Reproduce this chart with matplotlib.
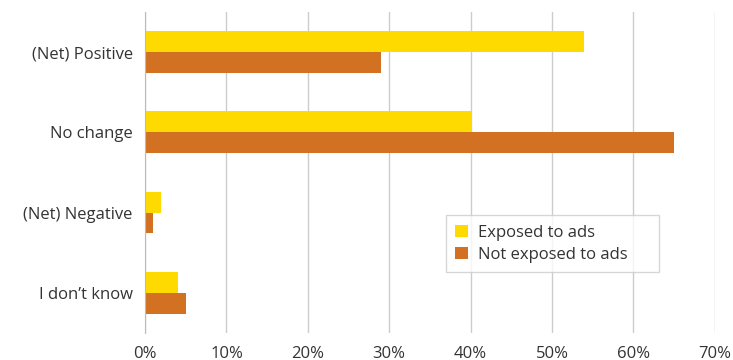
import matplotlib.pyplot as plt
import numpy as np

categories = ["(Net) Positive", "No change", "(Net) Negative", "I don\u2019t know"]
exposed = [54, 40, 2, 4]
not_exposed = [29, 65, 1, 5]
ticks = [0, 10, 20, 30, 40, 50, 60, 70]

plt.rcParams['font.family'] = ['Open Sans', 'DejaVu Sans']

fig = plt.figure(figsize=(7.33, 3.6), dpi=100)
ax = fig.add_axes([0.198, 0.075, 0.777, 0.892])

y = np.arange(len(categories))
h = 0.26
ax.barh(y - h / 2, exposed, height=h, color="#FFDA00", label="Exposed to ads", zorder=3)
ax.barh(y + h / 2, not_exposed, height=h, color="#D27121", label="Not exposed to ads", zorder=3)

ax.set_ylim(3.5, -0.5)
ax.set_xlim(0, 70)
ax.set_yticks(y)
ax.set_yticklabels(categories, fontsize=12, color="#333333")
ax.set_xticks(ticks)
ax.set_xticklabels([f"{t}%" for t in ticks], fontsize=12, color="#333333")
ax.tick_params(length=0, pad=9)

ax.grid(axis="x", color="#cccccc", linewidth=1, zorder=0)
for s in ["top", "right", "bottom"]:
    ax.spines[s].set_visible(False)
ax.spines["left"].set_color("#bbbbbb")
ax.spines["left"].set_zorder(4)

leg = ax.legend(loc="lower left", bbox_to_anchor=(0.528, 0.19, 0.375, 0.162), mode="expand",
                fontsize=12, frameon=True, fancybox=False, handlelength=0.8, handleheight=0.8,
                borderpad=0.55, labelspacing=0.35, handletextpad=0.6, borderaxespad=0)
leg.get_frame().set_edgecolor("#cccccc")
leg.get_frame().set_linewidth(1)
for t in leg.get_texts():
    t.set_color("#333333")

fig.savefig("out.png", dpi=100)
